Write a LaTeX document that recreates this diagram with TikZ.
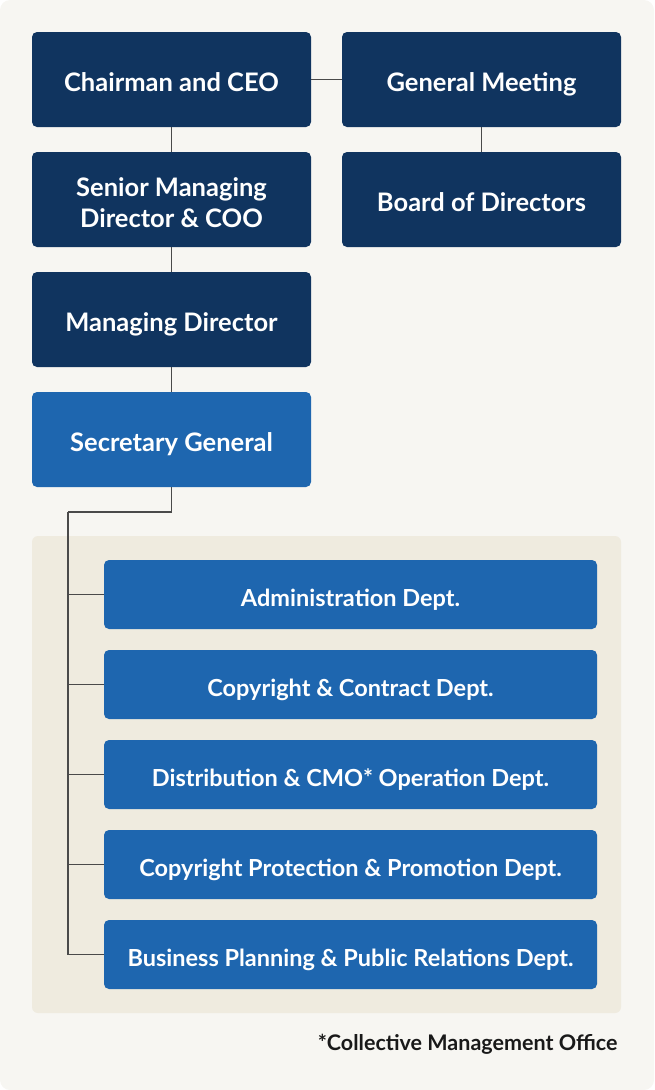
\documentclass[tikz,border=0pt]{standalone}
\usepackage{fontspec}
\setmainfont{Lato}
\definecolor{bgpaper}{HTML}{F7F6F2}
\definecolor{panel}{HTML}{EFEBDF}
\definecolor{navy}{HTML}{10345F}
\definecolor{mid}{HTML}{1E66AF}
\definecolor{wire}{HTML}{4A4A4A}
\tikzset{
  exec/.style={draw=none, fill=navy, rounded corners=5pt, text=white,
    minimum width=279pt, minimum height=95pt, align=center,
    text height=24.4pt, text depth=0pt,
    font=\fontsize{25.5}{31}\selectfont\bfseries},
  secbox/.style={exec, fill=mid},
  dept/.style={draw=none, fill=mid, rounded corners=5pt, text=white,
    minimum width=493pt, minimum height=69pt,
    text height=24pt, text depth=0pt,
    font=\fontsize{23.5}{28}\selectfont\bfseries}
}
\begin{document}
\begin{tikzpicture}[x=1pt, y=-1pt]
      \useasboundingbox (0,0) rectangle (654,1090);
      \fill[bgpaper, rounded corners=10pt] (0,0) rectangle (654,1090);
      \fill[panel, rounded corners=6pt] (32,536) rectangle (621,1013);
      \draw
        (171.5,79.5) node[exec] (ceo){Chairman and CEO}
        (481.5,79.5) node[exec] (gm){General Meeting}
        (171.5,199.5) node[exec, text height=56.4pt] (coo){Senior Managing\\Director \& COO}
        (481.5,199.5) node[exec] (bod){Board of Directors}
        (171.5,319.5) node[exec] (md){Managing Director}
        (171.5,439.5) node[secbox] (sg){Secretary General};
      \draw
        (350.5,594.5) node[dept] (d1){Administration Dept.}
        (350.5,684.5) node[dept] (d2){Copyright \& Contract Dept.}
        (350.5,774.5) node[dept] (d3){Distribution \& CMO* Operation Dept.}
        (350.5,864.5) node[dept] (d4){Copyright Protection \& Promotion Dept.}
        (350.5,954.5) node[dept] (d5){Business Planning \& Public Relations Dept.};
      \coordinate (j) at (68,512);
      \begin{scope}[wire, line width=1.5pt]
        \draw (ceo) to (gm);
        \draw (gm) to (bod);
        \draw (ceo) to (coo);
        \draw (coo) to (md);
        \draw (md) to (sg);
        \draw (sg.south) |- (j);
        \draw (j) |- (d1);
        \draw (j) |- (d2);
        \draw (j) |- (d3);
        \draw (j) |- (d4);
        \draw (j) |- (d5);
      \end{scope}
      \node[anchor=east, font=\fontsize{21.5}{25}\selectfont\bfseries, text=black!90]
        (note) at (621,1044) {*Collective Management Office};
    \end{tikzpicture}
\end{document}
